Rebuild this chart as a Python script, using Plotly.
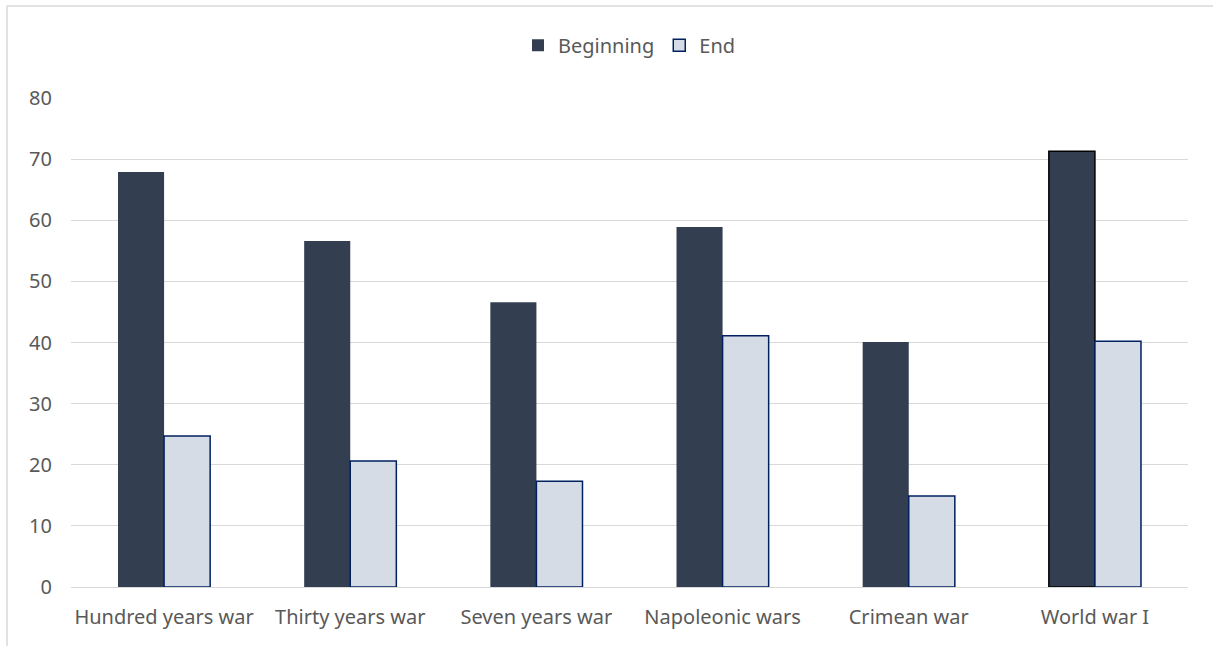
import plotly.graph_objects as go

categories = ["Hundred years war", "Thirty years war", "Seven years war",
              "Napoleonic wars", "Crimean war", "World war I"]
beginning = [67.9, 56.6, 46.6, 58.9, 40.1, 71.3]
end = [24.7, 20.6, 17.3, 41.1, 14.9, 40.2]
y_ticks = [0, 10, 20, 30, 40, 50, 60, 70, 80]

font = dict(family="Noto Sans, Open Sans, sans-serif", size=20, color="#595959")

fig = go.Figure()
fig.add_trace(go.Bar(
    x=categories, y=beginning, name="Beginning",
    marker=dict(color="#333F50",
                line=dict(color=["rgba(0,0,0,0)"] * 5 + ["#000000"], width=1.5)),
))
fig.add_trace(go.Bar(
    x=categories, y=end, name="End",
    marker=dict(color="#D6DCE5", line=dict(color="#002060", width=1.5)),
))

fig.update_layout(
    width=1213, height=646,
    margin=dict(l=71, r=25, t=98, b=59),
    paper_bgcolor="white", plot_bgcolor="white",
    font=font,
    barmode="group", bargap=0.505, bargroupgap=0,
    showlegend=True,
    legend=dict(orientation="h", x=0.5, xanchor="center", y=1.108, yanchor="middle",
                font=font, itemwidth=30, traceorder="normal"),
    xaxis=dict(showgrid=False, showline=True, linecolor="#D9D9D9", linewidth=1,
               ticks="", tickfont=font, ticklabelstandoff=12),
    yaxis=dict(range=[0, 80], tickvals=y_ticks, showgrid=True, gridcolor="#D9D9D9",
               gridwidth=1, zeroline=False, showline=False, ticks="",
               tickfont=font, ticklabelstandoff=18),
    shapes=[
        dict(type="line", xref="paper", yref="paper", x0=-0.0573, x1=1.03,
             y0=1.188, y1=1.188, line=dict(color="#D9D9D9", width=1.5)),
        dict(type="line", xref="paper", yref="paper", x0=-0.0573, x1=-0.0573,
             y0=-0.13, y1=1.188, line=dict(color="#D9D9D9", width=1.5)),
    ],
)

fig.write_html("out.html")
